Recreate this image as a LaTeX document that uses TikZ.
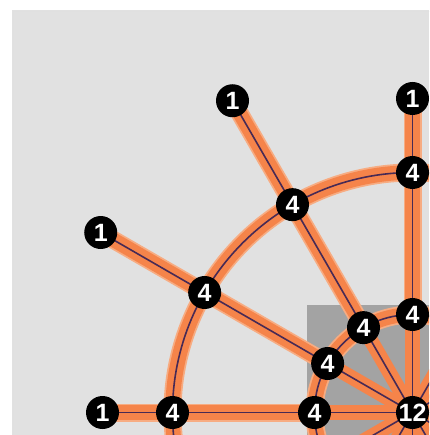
\documentclass[tikz,border=0pt]{standalone}
\usepackage{fontspec}
\setsansfont{Liberation Sans}
\definecolor{bgGray}{HTML}{E1E1E1}
\definecolor{sqGray}{HTML}{A3A3A3}
\definecolor{bandOr}{HTML}{F5844A}
\definecolor{haloOr}{HTML}{F7AC82}
\definecolor{navy}{HTML}{472A55}
\tikzset{
  halo/.style={line width=18pt, draw=haloOr},
  band/.style={line width=14.5pt, draw=bandOr},
  wire/.style={line width=1.6pt, draw=navy},
  hub/.style={circle, fill=black, minimum size=33pt, inner sep=0pt, text=white,
    font=\fontsize{25}{25}\selectfont\bfseries\sffamily}
}
\begin{document}
\begin{tikzpicture}[x=1pt,y=1pt]
\useasboundingbox (0,0) rectangle (429,-435);
\clip (0,0) rectangle (429,-435);
\fill[white] (0,0) rectangle (429,-435);
\fill[bgGray] (12,-10) rectangle (429,-435);
\draw[black!12, line width=0.8pt] (13,-436) -- (13,-11) -- (430,-11);
\fill[sqGray] (307,-305) rectangle (429,-435);
\begin{scope}[shift={(412.5,-412.5)}]
  % coordinates
  \coordinate (c) at (0,0);
  \foreach \a in {0,30,...,330} {
    \coordinate (I\a) at (\a:98);
    \coordinate (O\a) at (\a:240);
  }
  \coordinate (E180) at (180:310);
  \coordinate (E150) at (150:360);
  \coordinate (E120) at (120:360);
  \coordinate (E90) at (90:314);
  % connectors
  \foreach \s in {halo,band,wire} {
    \draw[\s] (c) circle[radius=240];
    \draw[\s] (c) circle[radius=98];
    \foreach \a in {180,150,120,90} {
      \draw[\s] (E\a) -- (O\a) -- (I\a);
    }
  }
  \foreach \s in {band,wire} {
    \foreach \a in {0,30,...,330} {
      \draw[\s] (I\a) -- (c);
    }
  }
  % nodes
  \node[hub] (e180) at (E180) {1};
  \node[hub] (e150) at (E150) {1};
  \node[hub] (e120) at (E120) {1};
  \node[hub] (e90) at (E90) {1};
  \node[hub] (o180) at (O180) {4};
  \node[hub] (o150) at (O150) {4};
  \node[hub] (o120) at (O120) {4};
  \node[hub] (o90) at (O90) {4};
  \node[hub] (i180) at (I180) {4};
  \node[hub] (i150) at (I150) {4};
  \node[hub] (i120) at (I120) {4};
  \node[hub] (i90) at (I90) {4};
  \node[hub] (hub12) at (c) {12};
\end{scope}
\end{tikzpicture}
\end{document}
